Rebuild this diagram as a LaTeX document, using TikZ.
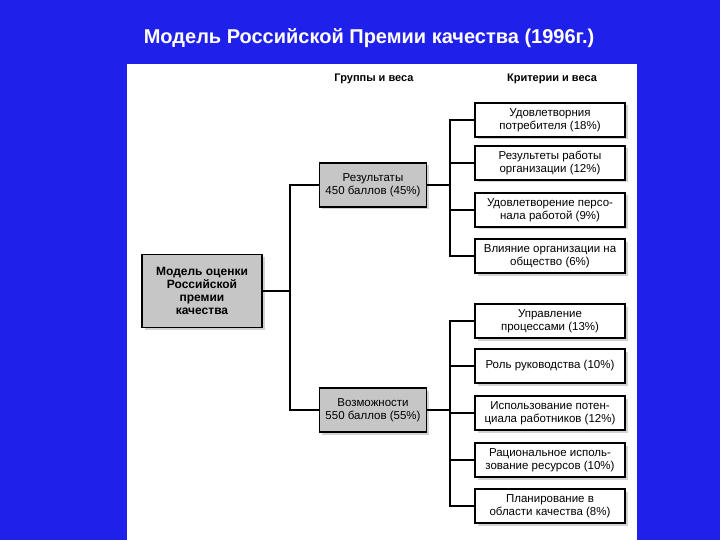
\documentclass[tikz,border=0pt]{standalone}
\usepackage{fontspec}
\setmainfont{Liberation Sans}
\usetikzlibrary{shadows}
\definecolor{bg}{RGB}{32,32,235}
\begin{document}
\begin{tikzpicture}[x=1pt,y=-1pt,
  crit/.style={draw,line width=1.3pt,fill=white,minimum width=150pt,minimum height=34pt,align=center,font=\fontsize{11.5}{12.5}\selectfont,inner sep=0pt,drop shadow={shadow xshift=2.5pt,shadow yshift=-2.5pt,fill=gray!70}},
  grp/.style={draw,line width=1.3pt,fill=gray!45,minimum width=107pt,minimum height=44pt,align=center,font=\fontsize{11.5}{12.5}\selectfont,inner sep=0pt,drop shadow={shadow xshift=2.5pt,shadow yshift=-2.5pt,fill=gray!70}},
  ln/.style={line width=1.3pt}]
\fill[bg] (0,0) rectangle (720,540);
\useasboundingbox (0,0) rectangle (720,540);
\fill[white] (127,64) rectangle (637,540);
\node[text=white,font=\bfseries\fontsize{20}{22}\selectfont] (title) at (369,38) {Модель Российской Премии качества (1996г.)};
\node[font=\bfseries\fontsize{11}{12}\selectfont] (h1) at (374,79) {Группы и веса};
\node[font=\bfseries\fontsize{11}{12}\selectfont] (h2) at (552,79) {Критерии и веса};
\node[grp,minimum width=120pt,minimum height=73pt,font=\bfseries\fontsize{12}{13}\selectfont] (m) at (202,291) {Модель оценки\\Российской\\премии\\качества};
\node[grp] (r) at (373,185) {Результаты\\450 баллов (45\%)};
\node[grp] (v) at (373,410) {Возможности\\550 баллов (55\%)};
\node[crit] (c1) at (550,120) {Удовлетворния\\потребителя (18\%)};
\node[crit] (c2) at (550,163) {Результеты работы\\организации (12\%)};
\node[crit] (c3) at (550,210) {Удовлетворение персо-\\нала работой (9\%)};
\node[crit] (c4) at (550,256) {Влияние организации на\\общество (6\%)};
\node[crit] (c5) at (550,321) {Управление\\процессами (13\%)};
\node[crit] (c6) at (550,366) {Роль руководства (10\%)};
\node[crit] (c7) at (550,413) {Использование потен-\\циала работников (12\%)};
\node[crit] (c8) at (550,460) {Рациональное исполь-\\зование ресурсов (10\%)};
\node[crit] (c9) at (550,506) {Планирование в\\области качества (8\%)};
\coordinate (b0) at (290,291);
\draw[ln] (m.east) -- (b0);
\draw[ln] (r.west) -| (b0) |- (v.west);
\coordinate (b1) at (450,185);
\coordinate (b2) at (450,410);
\draw[ln] (r.east) -- (b1);
\draw[ln] (v.east) -- (b2);
\foreach \c in {c1,c2,c3,c4} \draw[ln] (b1) |- (\c.west);
\foreach \c in {c5,c6,c7,c8,c9} \draw[ln] (b2) |- (\c.west);
\end{tikzpicture}
\end{document}
